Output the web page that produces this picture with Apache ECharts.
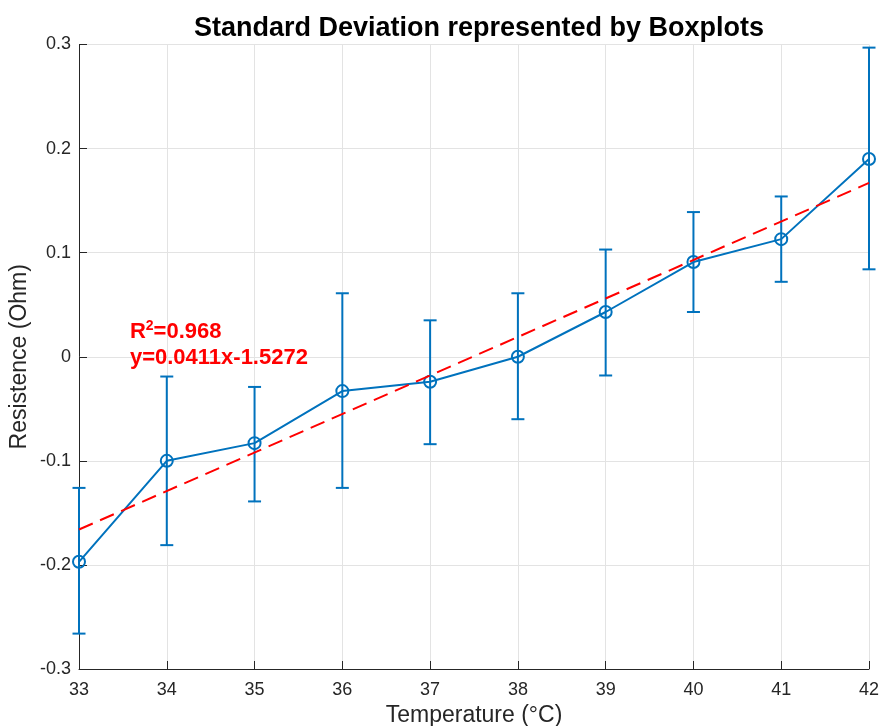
<!DOCTYPE html>
<html>
<head>
<meta charset="utf-8">
<script src="https://cdn.jsdelivr.net/npm/echarts@6/dist/echarts.min.js"></script>
<style>
  html, body { margin: 0; padding: 0; background: #fff; }
  #chart { width: 881px; height: 726px; }
</style>
</head>
<body>
<div id="chart"></div>
<script>
// Temperature steps (°C)
const temps = [33, 34, 35, 36, 37, 38, 39, 40, 41, 42];
// Mean resistance at each temperature (Ohm)
const meanR = [-0.197, -0.100, -0.083, -0.033, -0.024, 0.000, 0.043, 0.091, 0.113, 0.190];
// Upper / lower ends of the standard-deviation bars (Ohm)
const upperR = [-0.126, -0.019, -0.029, 0.061, 0.035, 0.061, 0.103, 0.139, 0.154, 0.297];
const lowerR = [-0.266, -0.181, -0.139, -0.126, -0.084, -0.060, -0.018, 0.043, 0.072, 0.084];
// Linear trend line end points
const fitX = [33, 42];
const fitY = [-0.166, 0.167];
// Tick labels
const xTicks = ['33', '34', '35', '36', '37', '38', '39', '40', '41', '42'];
const yTicks = ['-0.3', '-0.2', '-0.1', '0', '0.1', '0.2', '0.3'];
// Fit annotation
const fitNoteLines = ['R{sup|2}=0.968', 'y=0.0411x-1.5272'];
const fitNoteAt = [33.58, 0.036];

const BLUE = '#0072BD';
const FONT = '"Liberation Sans", Arial, Helvetica, sans-serif';

const meanData = temps.map((t, i) => [t, meanR[i]]);
const barData = temps.map((t, i) => [t, meanR[i], lowerR[i], upperR[i]]);
const fitData = fitX.map((t, i) => [t, fitY[i]]);

const chart = echarts.init(document.getElementById('chart'), null, { renderer: 'canvas' });

const option = {
  backgroundColor: '#fff',
  animation: false,
  title: {
    text: 'Standard Deviation represented by Boxplots',
    left: 474, top: 10, textAlign: 'center',
    textStyle: { fontFamily: FONT, fontSize: 27, fontWeight: 'bold', color: '#000' }
  },
  grid: { left: 79, right: 12, top: 44.5, bottom: 57, containLabel: false, outerBoundsMode: 'none' },
  xAxis: {
    type: 'value', min: 33, max: 42, interval: 1,
    name: 'Temperature (°C)', nameLocation: 'middle', nameGap: 35, nameMoveOverlap: false,
    nameTextStyle: { fontFamily: FONT, fontSize: 23, color: '#262626' },
    axisLine: { show: true, onZero: false, lineStyle: { color: '#262626', width: 1 } },
    axisTick: { show: true, inside: true, length: 8, lineStyle: { color: '#262626' } },
    axisLabel: {
      margin: 12, fontFamily: FONT, fontSize: 18, color: '#262626',
      formatter: v => xTicks[Math.round(v) - 33] ?? ''
    },
    splitLine: { show: true, lineStyle: { color: '#e3e3e3', width: 1 } }
  },
  yAxis: {
    type: 'value', min: -0.3, max: 0.3, interval: 0.1,
    name: 'Resistence (Ohm)', nameLocation: 'middle', nameGap: 48, nameMoveOverlap: false,
    nameTextStyle: { fontFamily: FONT, fontSize: 23, color: '#262626' },
    axisLine: { show: true, onZero: false, lineStyle: { color: '#262626', width: 1 } },
    axisTick: { show: true, inside: true, length: 8, lineStyle: { color: '#262626' } },
    axisLabel: {
      margin: 8, fontFamily: FONT, fontSize: 18, color: '#262626',
      formatter: v => yTicks[Math.round(v * 10) + 3] ?? ''
    },
    splitLine: { show: true, lineStyle: { color: '#e3e3e3', width: 1 } }
  },
  series: [
    {
      name: 'mean', type: 'line', data: meanData,
      showSymbol: false, symbol: 'none',
      lineStyle: { color: BLUE, width: 2 }, z: 3
    },
    {
      name: 'std', type: 'custom', data: barData, z: 4,
      encode: { x: 0, y: [1, 2, 3] },
      renderItem: (params, api) => {
        const x = api.value(0);
        const pM = api.coord([x, api.value(1)]);
        const pLo = api.coord([x, api.value(2)]);
        const pHi = api.coord([x, api.value(3)]);
        const hw = 6.5;
        const st = { stroke: BLUE, lineWidth: 2, fill: 'none' };
        return {
          type: 'group',
          children: [
            { type: 'line', shape: { x1: pLo[0], y1: pLo[1], x2: pHi[0], y2: pHi[1] }, style: st },
            { type: 'line', shape: { x1: pLo[0] - hw, y1: pLo[1], x2: pLo[0] + hw, y2: pLo[1] }, style: st },
            { type: 'line', shape: { x1: pHi[0] - hw, y1: pHi[1], x2: pHi[0] + hw, y2: pHi[1] }, style: st },
            { type: 'circle', shape: { cx: pM[0], cy: pM[1], r: 6 }, style: st }
          ]
        };
      }
    },
    {
      name: 'fit', type: 'line', data: fitData,
      showSymbol: false, symbol: 'none',
      lineStyle: { color: '#ff0000', width: 2, type: [15, 8] }, z: 5
    }
  ]
};

chart.setOption(option);

// Place the fit annotation in data coordinates
const notePos = chart.convertToPixel({ gridIndex: 0 }, fitNoteAt);
chart.setOption({
  graphic: [{
    type: 'text', x: notePos[0], y: notePos[1], z: 10,
    style: {
      text: fitNoteLines.join('\n'),
      fontFamily: FONT, fontSize: 22, fontWeight: 'bold', fill: '#ff0000',
      lineHeight: 26, verticalAlign: 'top',
      rich: {
        sup: { fontFamily: FONT, fontSize: 14, fontWeight: 'bold', fill: '#ff0000', verticalAlign: 'bottom', padding: [0, 0, 12, 0] }
      }
    }
  }]
});
</script>
</body>
</html>
